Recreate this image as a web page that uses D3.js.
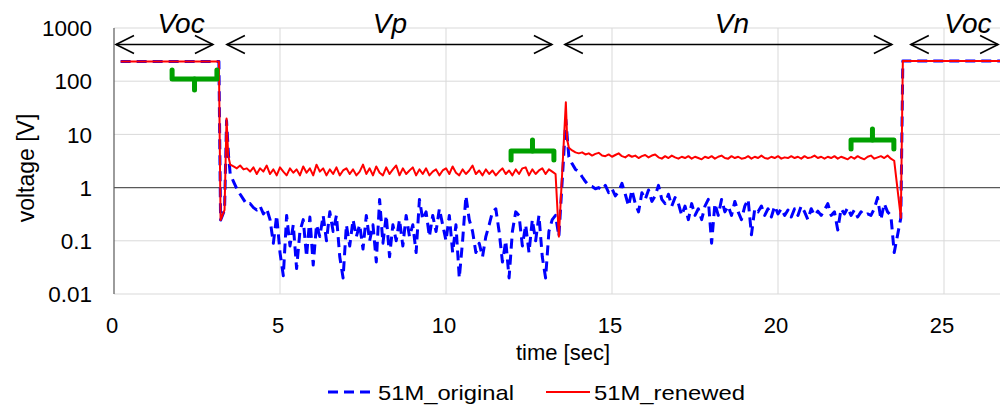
<!DOCTYPE html>
<html><head><meta charset="utf-8">
<script src="https://cdn.jsdelivr.net/npm/d3@7"></script>
<style>
body{margin:0;background:#fff}
svg{display:block;font-family:"Liberation Sans",Arial,Helvetica,sans-serif}
</style>
</head><body>
<svg id="c" width="1000" height="405"></svg>
<script>
// ---------------- DATA ----------------
const xTicks = [0, 5, 10, 15, 20, 25];
const xTickLabels = ["0", "5", "10", "15", "20", "25"];
const yTicks = [0.01, 0.1, 1, 10, 100, 1000];
const yTickLabels = ["0.01", "0.1", "1", "10", "100", "1000"];
const seriesNames = ["51M_original", "51M_renewed"];
const sampleStep = 0.1;

// 51M_renewed (red)
const renewedHeadT = [0.2, 3.16, 3.21, 3.33, 3.39, 3.44, 3.5];
const renewedHeadV = [235, 235, 0.245, 0.38, 20, 4, 2.7];
const renewedVpStart = 3.6;
const renewedVp = [
  2.5,2.3,2.6,2.2,2.3,2.0,2.4,1.8,2.3,2.0,
  2.6,1.8,2.2,1.7,2.4,2.0,1.7,2.3,1.9,2.2,
  1.7,2.5,1.9,2.3,1.7,2.7,2.0,2.3,1.7,2.2,
  1.8,2.4,1.7,2.1,2.3,1.8,2.2,1.7,2.0,2.7,
  1.8,2.3,1.7,2.5,1.9,1.7,2.4,1.8,2.2,2.6,
  1.7,2.3,1.8,2.1,2.4,1.7,2.2,1.8,2.3,1.7,
  2.0,2.2,1.7,2.1,2.3,1.8,2.5,1.9,1.7,2.2,
  1.8,2.1,2.6,1.8,2.1,1.7,2.2,1.8,2.1,1.7,
  2.0,2.3,1.8,2.1,1.7,2.2,1.8,2.3,2.4,1.7,
  2.2,1.8,2.1,2.3,1.8,2.2,2.0,1.8];
const renewedMidT = [13.4, 13.61, 13.65, 13.7];
const renewedMidV = [0.12, 40, 8, 5.6];
const renewedVnStart = 13.8;
const renewedVn = [
  5.0,4.6,4.4,4.6,4.2,4.4,4.0,4.3,4.5,4.0,
  3.9,4.2,3.8,4.1,4.4,3.9,3.7,4.1,3.8,4.0,
  3.6,3.9,4.1,3.7,4.0,4.2,3.7,3.5,3.9,3.6,
  4.0,3.7,3.5,3.8,3.6,3.9,3.5,3.8,3.6,3.4,
  3.8,3.6,3.9,3.5,3.8,4.0,3.6,3.5,3.9,3.6,
  3.8,3.5,3.6,3.9,3.5,3.8,3.6,4.0,3.6,3.5,
  3.8,3.6,3.9,3.5,3.7,3.6,3.9,3.6,3.8,3.5,
  3.9,3.6,3.7,4.0,3.6,3.8,3.5,3.8,3.6,3.9,
  3.5,3.8,3.6,3.4,3.8,3.5,3.9,3.6,3.4,3.8,
  4.0,3.5,3.7,3.9,3.6,4.0,3.5,3.2];
const renewedTailT = [23.7, 23.76, 30];
const renewedTailV = [0.27, 240, 240];

// 51M_original (blue)
const originalHeadT = [0.2, 3.16, 3.21, 3.33, 3.39, 3.45];
const originalHeadV = [235, 235, 0.245, 0.38, 18, 4];
const originalVpStart = 3.5;
const originalVp = [
  1.8,1.3,0.95,0.75,0.6,0.48,0.5,0.42,0.38,0.45,
  0.32,0.4,0.25,0.09,0.3,0.06,0.022,0.3,0.08,0.2,
  0.03,0.15,0.25,0.05,0.28,0.035,0.2,0.12,0.3,0.1,
  0.35,0.15,0.3,0.05,0.02,0.2,0.08,0.25,0.12,0.2,
  0.07,0.3,0.1,0.2,0.04,0.6,0.09,0.3,0.05,0.2,
  0.1,0.25,0.08,0.3,0.12,0.2,0.06,0.6,0.25,0.35,
  0.12,0.3,0.15,0.4,0.2,0.1,0.3,0.06,0.2,0.02,
  0.1,0.7,0.25,0.15,0.06,0.09,0.05,0.12,0.2,0.35,
  0.4,0.15,0.04,0.1,0.02,0.15,0.35,0.3,0.08,0.2,
  0.06,0.25,0.1,0.3,0.05,0.02,0.15,0.25,0.3];
const originalMidT = [13.4, 13.61, 13.7];
const originalMidV = [0.12, 19, 3.8];
const originalVnStart = 13.8;
const originalVn = [
  2.8,2.2,2.0,1.6,1.3,1.1,1.05,0.95,1.0,0.9,
  1.1,0.8,0.95,0.7,0.85,1.2,0.75,0.45,0.9,0.5,
  0.35,0.8,0.6,0.9,0.55,0.7,1.1,0.6,0.5,0.75,
  0.45,0.65,0.5,0.3,0.45,0.25,0.5,0.3,0.4,0.25,
  0.45,0.6,0.09,0.5,0.3,0.6,0.35,0.45,0.3,0.55,
  0.35,0.25,0.45,0.6,0.13,0.4,0.35,0.45,0.3,0.4,
  0.28,0.45,0.32,0.4,0.3,0.38,0.28,0.4,0.3,0.45,
  0.35,0.25,0.4,0.3,0.36,0.3,0.38,0.5,0.3,0.35,
  0.16,0.4,0.32,0.42,0.3,0.38,0.28,0.35,0.3,0.32,
  0.3,0.4,0.65,0.25,0.5,0.35,0.3,0.06];
const originalTailT = [23.7, 23.76, 30];
const originalTailV = [0.27, 240, 240];

// phase annotations (time ranges of arrows, label centre)
const phaseNames = ["Voc", "Vp", "Vn", "Voc"];
const phaseFrom = [0.06, 3.40, 13.58, 24.0];
const phaseTo = [2.98, 13.19, 23.43, 26.63];
const phaseLabelT = [2.02, 8.31, 18.61, 25.72];
// green brackets: time span, voltage of bar, stem direction (1 = down, -1 = up)
const bracketFrom = [1.75, 11.96, 22.2];
const bracketTo = [3.10, 13.25, 23.49];
const bracketV = [110, 4.9, 7.85];
const bracketDir = [1, -1, -1];

// ---------------- BUILD ----------------
function pts(T, V) { return T.map((t, i) => [t, V[i]]); }
function sampled(start, V) { return V.map((v, i) => [+(start + i * sampleStep).toFixed(2), v]); }
const renewed = [].concat(
  pts(renewedHeadT, renewedHeadV), sampled(renewedVpStart, renewedVp),
  pts(renewedMidT, renewedMidV), sampled(renewedVnStart, renewedVn),
  pts(renewedTailT, renewedTailV));
const original = [].concat(
  pts(originalHeadT, originalHeadV), sampled(originalVpStart, originalVp),
  pts(originalMidT, originalMidV), sampled(originalVnStart, originalVn),
  pts(originalTailT, originalTailV));

const svg = d3.select("#c");
const X0 = 114, PX_PER_S = 33.2;
const x = d3.scaleLinear().domain([0, 30]).range([X0, X0 + 30 * PX_PER_S]);
const y = d3.scaleLog().domain([0.01, 1000]).range([294, 28]);
const W = 1000;

svg.append("defs").append("clipPath").attr("id", "clip")
  .append("rect").attr("x", X0).attr("y", 0).attr("width", W - X0).attr("height", 300);

// gridlines
const grid = svg.append("g");
grid.selectAll(".hg").data(yTicks.filter(v => v !== 1)).enter().append("line")
  .attr("x1", X0).attr("x2", W).attr("y1", d => y(d)).attr("y2", d => y(d))
  .attr("stroke", "#d9d9d9").attr("stroke-width", 1);
grid.selectAll(".vg").data([5, 10, 15, 20, 25, 30]).enter().append("line")
  .attr("x1", d => x(d)).attr("x2", d => x(d)).attr("y1", y(1000)).attr("y2", y(0.01))
  .attr("stroke", "#d9d9d9").attr("stroke-width", 1);

// axis lines
svg.append("line").attr("x1", X0).attr("x2", X0).attr("y1", y(1000)).attr("y2", y(0.01))
  .attr("stroke", "#595959").attr("stroke-width", 1.2);
svg.append("line").attr("x1", X0).attr("x2", W).attr("y1", y(1)).attr("y2", y(1))
  .attr("stroke", "#595959").attr("stroke-width", 1.2);

// tick labels
svg.selectAll(".yl").data(yTicks).enter().append("text")
  .attr("x", 92).attr("y", d => y(d)).attr("dy", "0.36em")
  .attr("text-anchor", "end").attr("font-size", 22.5).attr("fill", "#000")
  .text((d, i) => yTickLabels[i]);
svg.selectAll(".xl").data(xTicks).enter().append("text")
  .attr("x", d => x(d) - 2).attr("y", 333)
  .attr("text-anchor", "middle").attr("font-size", 22).attr("fill", "#000")
  .text((d, i) => xTickLabels[i]);

// axis titles
svg.append("text").attr("x", 563).attr("y", 360).attr("text-anchor", "middle")
  .attr("font-size", 22).text("time [sec]");
svg.append("text").attr("transform", "translate(34,168) rotate(-90)")
  .attr("text-anchor", "middle").attr("font-size", 23).text("voltage [V]");

// series
const line = d3.line().x(d => x(d[0])).y(d => y(d[1]));
const plot = svg.append("g").attr("clip-path", "url(#clip)");
plot.append("path").datum(original).attr("d", line)
  .attr("fill", "none").attr("stroke", "#0000ff").attr("stroke-width", 3)
  .attr("stroke-dasharray", "10,6").attr("stroke-linejoin", "round");
plot.append("path").datum(renewed).attr("d", line)
  .attr("fill", "none").attr("stroke", "#ff0000").attr("stroke-width", 2)
  .attr("stroke-linejoin", "round");

// phase arrows
const ay = 44.5, ah = 18, aw = 9;
const ann = svg.append("g").attr("stroke", "#000").attr("fill", "none").attr("stroke-width", 1.6);
phaseNames.forEach((name, i) => {
  const a = x(phaseFrom[i]), b = x(phaseTo[i]);
  ann.append("line").attr("x1", a).attr("x2", b).attr("y1", ay).attr("y2", ay);
  ann.append("path").attr("d", `M${a + ah},${ay - aw}L${a},${ay}L${a + ah},${ay + aw}`);
  ann.append("path").attr("d", `M${b - ah},${ay - aw}L${b},${ay}L${b - ah},${ay + aw}`);
  svg.append("text").attr("x", x(phaseLabelT[i])).attr("y", 33)
    .attr("text-anchor", "middle").attr("font-size", 28).attr("font-style", "italic")
    .attr("fill", "#000").text(name);
});

// green brackets
const br = svg.append("g").attr("stroke", "#00a000").attr("fill", "none")
  .attr("stroke-width", 5).attr("stroke-linejoin", "round").attr("stroke-linecap", "round");
bracketFrom.forEach((f, i) => {
  const a = x(f), b = x(bracketTo[i]), yy = y(bracketV[i]), d = bracketDir[i];
  const m = (a + b) / 2;
  br.append("path").attr("d", `M${a},${yy - 9 * d}L${a},${yy}L${b},${yy}L${b},${yy - 9 * d}`);
  br.append("path").attr("d", `M${m},${yy}L${m},${yy + 11 * d}`);
});

// legend
const ly = 392;
svg.append("line").attr("x1", 328).attr("x2", 374).attr("y1", ly).attr("y2", ly)
  .attr("stroke", "#0000ff").attr("stroke-width", 3).attr("stroke-dasharray", "10,6");
svg.append("text").attr("x", 378).attr("y", ly).attr("dy", "0.36em").attr("font-size", 21)
  .attr("textLength", 136).attr("lengthAdjust", "spacingAndGlyphs").text(seriesNames[0]);
svg.append("line").attr("x1", 546).attr("x2", 590).attr("y1", ly).attr("y2", ly)
  .attr("stroke", "#ff0000").attr("stroke-width", 2.2);
svg.append("text").attr("x", 594).attr("y", ly).attr("dy", "0.36em").attr("font-size", 21)
  .attr("textLength", 151).attr("lengthAdjust", "spacingAndGlyphs").text(seriesNames[1]);
</script>
</body></html>
